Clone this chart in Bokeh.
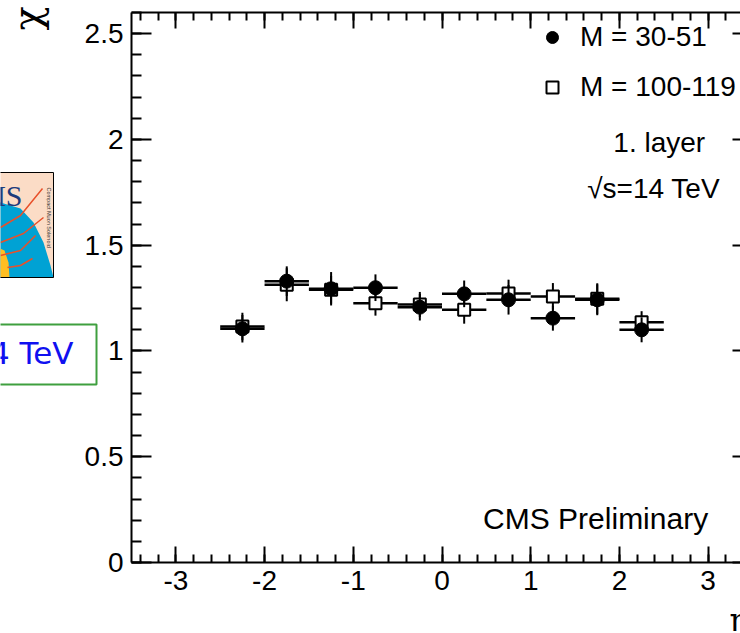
import numpy as np
from bokeh.plotting import figure
from bokeh.models import (Range1d, FixedTicker, LinearAxis, Label, Legend, LegendItem,
                          PrintfTickFormatter, BoxAnnotation, PolyAnnotation)
from bokeh.embed import file_html
from bokeh.resources import INLINE

# ---------------- data ----------------
eta_centers = [-2.25, -1.75, -1.25, -0.75, -0.25, 0.25, 0.75, 1.25, 1.75, 2.25]
bin_half_width = 0.25

chi_m30_51 = [1.105, 1.330, 1.294, 1.299, 1.207, 1.270, 1.242, 1.155, 1.242, 1.100]
err_m30_51 = [0.065, 0.070, 0.079, 0.063, 0.063, 0.063, 0.070, 0.059, 0.073, 0.059]

chi_m100_119 = [1.116, 1.313, 1.289, 1.226, 1.220, 1.195, 1.272, 1.258, 1.247, 1.136]
err_m100_119 = [0.065, 0.078, 0.066, 0.059, 0.059, 0.066, 0.065, 0.063, 0.073, 0.052]

x_ticks = [-3, -2, -1, 0, 1, 2, 3]
y_ticks = [0, 0.5, 1, 1.5, 2, 2.5]
legend_labels = ["M = 30-51", "M = 100-119"]

# axis frame (ROOT histogram frame), data units
X_MIN, X_MAX = -3.5, 3.5
Y_MIN, Y_MAX = 0.0, 2.6

# ---------------- layout constants (pixels) ----------------
W, H = 740, 633
FRAME_L, FRAME_R, FRAME_T, FRAME_B = 131, 752, 12, 562   # ROOT frame; right side lies beyond the crop
PX_X = (FRAME_R - FRAME_L) / (X_MAX - X_MIN)
PX_Y = (FRAME_B - FRAME_T) / (Y_MAX - Y_MIN)

FONT = "Liberation Sans"


def sx(cx):
    return cx


def sy(cy):
    return H - cy


p = figure(width=W, height=H,
           x_range=Range1d(X_MIN - FRAME_L / PX_X, X_MAX - (FRAME_R - W) / PX_X),
           y_range=Range1d(Y_MIN - (H - FRAME_B) / PX_Y, Y_MAX + FRAME_T / PX_Y),
           output_backend="svg", toolbar_location=None,
           min_border_left=0, min_border_right=0, min_border_top=0, min_border_bottom=0)
p.grid.visible = False
p.outline_line_color = None
p.background_fill_color = "white"
p.border_fill_color = "white"

x_ticker = FixedTicker(ticks=x_ticks, minor_ticks=[round(v, 2) for v in np.arange(-3.4, 3.41, 0.2)])
y_ticker = FixedTicker(ticks=y_ticks, minor_ticks=[round(v, 2) for v in np.arange(0, 2.61, 0.1)])


def style_axis(ax, major_in, minor_in, labels=True):
    ax.axis_line_color = "black"
    ax.axis_line_width = 2
    ax.major_tick_in = major_in
    ax.major_tick_out = 0
    ax.minor_tick_in = minor_in
    ax.minor_tick_out = 0
    ax.major_tick_line_color = "black"
    ax.major_tick_line_width = 2
    ax.minor_tick_line_color = "black"
    ax.minor_tick_line_width = 2
    ax.formatter = PrintfTickFormatter(format="%g")
    if labels:
        ax.major_label_text_font = FONT
        ax.major_label_text_font_size = "28px"
        ax.major_label_text_color = "black"
        ax.major_label_standoff = 8
    else:
        ax.major_label_text_alpha = 0
        ax.major_label_text_color = None


xax = p.xaxis[0]
xax.ticker = x_ticker
xax.fixed_location = Y_MIN
xax.bounds = (X_MIN, X_MAX)
style_axis(xax, 16, 8)

yax = p.yaxis[0]
yax.ticker = y_ticker
yax.fixed_location = X_MIN
yax.bounds = (Y_MIN, Y_MAX)
style_axis(yax, 20, 10)

top_ax = LinearAxis(ticker=x_ticker, fixed_location=Y_MAX, bounds=(X_MIN, X_MAX))
style_axis(top_ax, 16, 8, labels=False)
p.add_layout(top_ax, "above")

right_ax = LinearAxis(ticker=y_ticker, fixed_location=X_MAX, bounds=(Y_MIN, Y_MAX))
style_axis(right_ax, 20, 10, labels=False)
p.add_layout(right_ax, "right")

# ---------------- series M = 100-119 (open squares) ----------------
bx0 = [c - bin_half_width for c in eta_centers]
bx1 = [c + bin_half_width for c in eta_centers]
p.segment(x0=bx0, y0=chi_m100_119, x1=bx1, y1=chi_m100_119, line_color="black", line_width=2.5)
p.segment(x0=eta_centers, y0=[v - e for v, e in zip(chi_m100_119, err_m100_119)],
          x1=eta_centers, y1=[v + e for v, e in zip(chi_m100_119, err_m100_119)],
          line_color="black", line_width=2)
rB = p.scatter(x=eta_centers, y=chi_m100_119, marker="square", size=12,
               fill_color="white", line_color="black", line_width=2)

# ---------------- series M = 30-51 (filled circles) ----------------
p.segment(x0=bx0, y0=chi_m30_51, x1=bx1, y1=chi_m30_51, line_color="black", line_width=2.5)
p.segment(x0=eta_centers, y0=[v - e for v, e in zip(chi_m30_51, err_m30_51)],
          x1=eta_centers, y1=[v + e for v, e in zip(chi_m30_51, err_m30_51)],
          line_color="black", line_width=2)
rA = p.scatter(x=eta_centers, y=chi_m30_51, marker="circle", size=14,
               fill_color="black", line_color="black")

# legend: top at canvas y=25, glyph column starting at canvas x=537
legend = Legend(items=[LegendItem(label=legend_labels[0], renderers=[rA]),
                       LegendItem(label=legend_labels[1], renderers=[rB])],
                location=(537, H - 25 - 78), orientation="vertical",
                border_line_alpha=0, background_fill_alpha=0, padding=0, margin=0,
                spacing=18, glyph_width=30, glyph_height=30, label_height=30,
                label_standoff=13, label_text_font=FONT, label_text_font_size="28px",
                label_text_color="black")
p.add_layout(legend)

# ---------------- texts inside the frame ----------------
txt = dict(text_font=FONT, text_font_size="28px", text_color="black",
           text_align="right", text_baseline="middle")
p.add_layout(Label(x=2.966, y=1.986, text="1. layer", **txt))
p.add_layout(Label(x=3.135, y=1.768, text="√s=14 TeV", **txt))
txt_cms = dict(txt, text_font_size="30px")
p.add_layout(Label(x=3.0, y=0.208, text="CMS Preliminary", **txt_cms))

# axis titles (ROOT style, at the ends of the axes)
p.add_layout(Label(x=sx(26), y=sy(18), x_units="screen", y_units="screen", text="χ",
                   angle=np.pi / 2, text_font="DejaVu Serif", text_font_size="40px",
                   text_align="center", text_baseline="middle", text_color="black"))
p.add_layout(Label(x=sx(729), y=sy(619), x_units="screen", y_units="screen", text="η",
                   text_font="DejaVu Serif", text_font_size="32px",
                   text_align="left", text_baseline="middle", text_color="black"))

# ---------------- slide decorations on the left ----------------
box_kw = dict(left_units="screen", right_units="screen", top_units="screen", bottom_units="screen")
p.add_layout(BoxAnnotation(left=sx(-10), right=sx(53), top=sy(172), bottom=sy(277),
                           fill_color="#fbdcc6", fill_alpha=1, line_color=None,
                           level="overlay", **box_kw))
logo_blue = [(-5, 200), (0, 202), (20, 208), (33, 222), (43, 242), (50, 265), (53, 277), (-5, 277)]
p.add_layout(PolyAnnotation(xs=[sx(a) for a, b in logo_blue], ys=[sy(b) for a, b in logo_blue],
                            xs_units="screen", ys_units="screen", fill_color="#00a2d4", fill_alpha=1,
                            line_color=None, level="overlay"))
logo_yellow = [(-5, 246), (4, 250), (8, 262), (9, 277), (-5, 277)]
p.add_layout(PolyAnnotation(xs=[sx(a) for a, b in logo_yellow], ys=[sy(b) for a, b in logo_yellow],
                            xs_units="screen", ys_units="screen", fill_color="#ffbe22", fill_alpha=1,
                            line_color=None, level="overlay"))
logo_arcs = [
    [(0, 227), (20, 215), (42, 188)],
    [(0, 242), (23, 233), (43, 217)],
    [(0, 255), (20, 250), (35, 235)],
    [(7, 267), (20, 265), (32, 258)],
]
for arc in logo_arcs:
    path = arc + arc[::-1]
    p.add_layout(PolyAnnotation(xs=[sx(a) for a, b in path], ys=[sy(b) for a, b in path],
                                xs_units="screen", ys_units="screen", fill_alpha=0,
                                line_color="#e8502a", line_alpha=1, line_width=1.5, level="overlay"))
p.add_layout(Label(x=sx(22), y=sy(195), x_units="screen", y_units="screen", text="CMS",
                   text_font="Liberation Serif", text_font_size="30px", text_color="#1d3b7c",
                   text_align="right", text_baseline="middle", level="overlay"))
p.add_layout(Label(x=sx(48), y=sy(187), x_units="screen", y_units="screen",
                   text="Compact Muon Solenoid", angle=-np.pi / 2,
                   text_font=FONT, text_font_size="5.5px", text_color="#333333",
                   text_align="left", text_baseline="middle", level="overlay"))
p.add_layout(BoxAnnotation(left=sx(-10), right=sx(53), top=sy(172), bottom=sy(277),
                           fill_alpha=0, line_color="black", line_alpha=1, line_width=1,
                           level="overlay", **box_kw))

p.add_layout(BoxAnnotation(left=sx(-10), right=sx(96), top=sy(324), bottom=sy(384),
                           fill_color="white", fill_alpha=1, line_color="#3f9f3f", line_alpha=1,
                           line_width=2, level="overlay", **box_kw))
p.add_layout(Label(x=sx(73), y=sy(352), x_units="screen", y_units="screen", text="14 TeV",
                   text_font="DejaVu Sans", text_font_size="31px", text_color="#1010f0",
                   text_align="right", text_baseline="middle", level="overlay"))

open("out.html", "w").write(file_html(p, INLINE))
